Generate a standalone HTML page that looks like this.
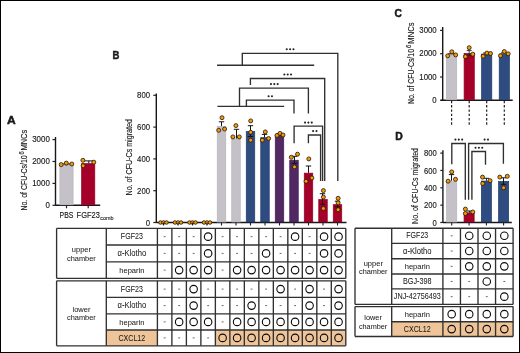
<!DOCTYPE html>
<html><head><meta charset="utf-8"><style>
html,body{margin:0;padding:0;background:#fff;overflow:hidden;width:520px;height:353px;}
svg{display:block;font-family:"Liberation Sans", sans-serif;will-change:transform;}
</style></head><body>
<svg width="520" height="353" viewBox="0 0 520 353">
<rect x="0" y="0" width="520" height="353" fill="#fff"/>
<rect x="0.50" y="0.50" width="519.00" height="352.00" fill="none" stroke="#000" stroke-width="1"/>
<text x="6.90" y="123.80" font-size="11.3" text-anchor="start" font-weight="bold" fill="#1a1a1a" textLength="8.7" lengthAdjust="spacingAndGlyphs" stroke="#1a1a1a" stroke-width="0.5" >A</text>
<line x1="55.50" y1="137.00" x2="55.50" y2="205.80" stroke="#181818" stroke-width="1.4" />
<line x1="52.50" y1="205.30" x2="55.50" y2="205.30" stroke="#202020" stroke-width="1.2" />
<text x="49.80" y="207.90" font-size="8.8" text-anchor="end" font-weight="normal" fill="#1a1a1a" textLength="4.4" lengthAdjust="spacingAndGlyphs" stroke="#1a1a1a" stroke-width="0.15" >0</text>
<line x1="52.50" y1="183.40" x2="55.50" y2="183.40" stroke="#202020" stroke-width="1.2" />
<text x="49.80" y="186.00" font-size="8.8" text-anchor="end" font-weight="normal" fill="#1a1a1a" textLength="17.6" lengthAdjust="spacingAndGlyphs" stroke="#1a1a1a" stroke-width="0.15" >1000</text>
<line x1="52.50" y1="161.50" x2="55.50" y2="161.50" stroke="#202020" stroke-width="1.2" />
<text x="49.80" y="164.10" font-size="8.8" text-anchor="end" font-weight="normal" fill="#1a1a1a" textLength="17.6" lengthAdjust="spacingAndGlyphs" stroke="#1a1a1a" stroke-width="0.15" >2000</text>
<line x1="52.50" y1="139.60" x2="55.50" y2="139.60" stroke="#202020" stroke-width="1.2" />
<text x="49.80" y="142.20" font-size="8.8" text-anchor="end" font-weight="normal" fill="#1a1a1a" textLength="17.6" lengthAdjust="spacingAndGlyphs" stroke="#1a1a1a" stroke-width="0.15" >3000</text>
<line x1="55.50" y1="205.30" x2="100.20" y2="205.30" stroke="#181818" stroke-width="1.4" />
<rect x="59.90" y="165.35" width="13.20" height="39.45" fill="#c4c1c8" stroke="#b6b3ba" stroke-width="0.7"/>
<line x1="66.50" y1="205.30" x2="66.50" y2="208.30" stroke="#202020" stroke-width="1.2" />
<rect x="81.60" y="163.65" width="13.20" height="41.15" fill="#a5002a" stroke="#95001f" stroke-width="0.7"/>
<line x1="88.20" y1="205.30" x2="88.20" y2="208.30" stroke="#202020" stroke-width="1.2" />
<line x1="61.20" y1="164.00" x2="71.80" y2="164.00" stroke="#111" stroke-width="1.0" />
<line x1="66.50" y1="163.00" x2="66.50" y2="165.20" stroke="#111" stroke-width="1.6" />
<circle cx="61.20" cy="164.60" r="2.0" fill="#f39a06" stroke="#21170a" stroke-width="0.8"/>
<circle cx="66.30" cy="163.10" r="2.0" fill="#f39a06" stroke="#21170a" stroke-width="0.8"/>
<circle cx="71.80" cy="164.00" r="2.0" fill="#f39a06" stroke="#21170a" stroke-width="0.8"/>
<line x1="83.00" y1="160.90" x2="93.50" y2="160.90" stroke="#111" stroke-width="1.0" />
<line x1="88.80" y1="160.90" x2="88.80" y2="163.30" stroke="#111" stroke-width="1.0" />
<circle cx="82.90" cy="160.30" r="2.0" fill="#f39a06" stroke="#21170a" stroke-width="0.8"/>
<circle cx="83.10" cy="165.80" r="2.0" fill="#f39a06" stroke="#21170a" stroke-width="0.8"/>
<circle cx="93.80" cy="162.20" r="2.0" fill="#f39a06" stroke="#21170a" stroke-width="0.8"/>
<text x="66.50" y="217.70" font-size="9.0" text-anchor="middle" font-weight="normal" fill="#1a1a1a" textLength="13.8" lengthAdjust="spacingAndGlyphs" stroke="#1a1a1a" stroke-width="0.15" >PBS</text>
<text x="76.60" y="217.70" font-size="9.0" text-anchor="start" font-weight="normal" fill="#1a1a1a" textLength="23.2" lengthAdjust="spacingAndGlyphs" stroke="#1a1a1a" stroke-width="0.15" >FGF23</text>
<text x="100.20" y="220.30" font-size="5.8" text-anchor="start" font-weight="normal" fill="#1a1a1a" textLength="13.4" lengthAdjust="spacingAndGlyphs" stroke="#1a1a1a" stroke-width="0.1" >comb</text>
<text transform="translate(27.20,0) rotate(-90)" x="-210.50" y="0" font-size="9.8" fill="#1a1a1a" stroke="#1a1a1a" stroke-width="0.15" textLength="55.10" lengthAdjust="spacingAndGlyphs">No. of CFU-Cs/10</text>
<text transform="translate(24.10,0) rotate(-90)" x="-154.50" y="0" font-size="6.664000000000001" fill="#1a1a1a" stroke="#1a1a1a" stroke-width="0.15" textLength="3.20" lengthAdjust="spacingAndGlyphs">6</text>
<text transform="translate(27.20,0) rotate(-90)" x="-150.60" y="0" font-size="9.8" fill="#1a1a1a" stroke="#1a1a1a" stroke-width="0.15" textLength="20.80" lengthAdjust="spacingAndGlyphs">MNCs</text>
<text x="112.40" y="59.00" font-size="11" text-anchor="start" font-weight="bold" fill="#1a1a1a" textLength="6.9" lengthAdjust="spacingAndGlyphs" stroke="#1a1a1a" stroke-width="0.5" >B</text>
<line x1="156.30" y1="93.50" x2="156.30" y2="223.00" stroke="#181818" stroke-width="1.4" />
<line x1="153.30" y1="222.50" x2="156.30" y2="222.50" stroke="#202020" stroke-width="1.2" />
<text x="150.00" y="225.60" font-size="8.8" text-anchor="end" font-weight="normal" fill="#1a1a1a" textLength="4.3" lengthAdjust="spacingAndGlyphs" stroke="#1a1a1a" stroke-width="0.15" >0</text>
<line x1="153.30" y1="190.70" x2="156.30" y2="190.70" stroke="#202020" stroke-width="1.2" />
<text x="150.00" y="193.80" font-size="8.8" text-anchor="end" font-weight="normal" fill="#1a1a1a" textLength="12.899999999999999" lengthAdjust="spacingAndGlyphs" stroke="#1a1a1a" stroke-width="0.15" >200</text>
<line x1="153.30" y1="158.90" x2="156.30" y2="158.90" stroke="#202020" stroke-width="1.2" />
<text x="150.00" y="162.00" font-size="8.8" text-anchor="end" font-weight="normal" fill="#1a1a1a" textLength="12.899999999999999" lengthAdjust="spacingAndGlyphs" stroke="#1a1a1a" stroke-width="0.15" >400</text>
<line x1="153.30" y1="127.10" x2="156.30" y2="127.10" stroke="#202020" stroke-width="1.2" />
<text x="150.00" y="130.20" font-size="8.8" text-anchor="end" font-weight="normal" fill="#1a1a1a" textLength="12.899999999999999" lengthAdjust="spacingAndGlyphs" stroke="#1a1a1a" stroke-width="0.15" >600</text>
<line x1="153.30" y1="95.30" x2="156.30" y2="95.30" stroke="#202020" stroke-width="1.2" />
<text x="150.00" y="98.40" font-size="8.8" text-anchor="end" font-weight="normal" fill="#1a1a1a" textLength="12.899999999999999" lengthAdjust="spacingAndGlyphs" stroke="#1a1a1a" stroke-width="0.15" >800</text>
<line x1="156.30" y1="222.50" x2="346.50" y2="222.50" stroke="#181818" stroke-width="1.4" />
<text transform="translate(131.70,0) rotate(-90)" x="-195.50" y="0" font-size="9.8" fill="#1a1a1a" stroke="#1a1a1a" stroke-width="0.15" textLength="76.40" lengthAdjust="spacingAndGlyphs">No. of CFU-Cs migrated</text>
<circle cx="160.50" cy="222.50" r="1.8" fill="#f39a06" stroke="#21170a" stroke-width="0.8"/>
<circle cx="163.50" cy="222.50" r="1.8" fill="#f39a06" stroke="#21170a" stroke-width="0.8"/>
<circle cx="166.50" cy="222.50" r="1.8" fill="#f39a06" stroke="#21170a" stroke-width="0.8"/>
<circle cx="175.00" cy="222.50" r="1.8" fill="#f39a06" stroke="#21170a" stroke-width="0.8"/>
<circle cx="178.00" cy="222.50" r="1.8" fill="#f39a06" stroke="#21170a" stroke-width="0.8"/>
<circle cx="181.00" cy="222.50" r="1.8" fill="#f39a06" stroke="#21170a" stroke-width="0.8"/>
<circle cx="189.50" cy="222.50" r="1.8" fill="#f39a06" stroke="#21170a" stroke-width="0.8"/>
<circle cx="192.50" cy="222.50" r="1.8" fill="#f39a06" stroke="#21170a" stroke-width="0.8"/>
<circle cx="195.50" cy="222.50" r="1.8" fill="#f39a06" stroke="#21170a" stroke-width="0.8"/>
<circle cx="204.00" cy="222.50" r="1.8" fill="#f39a06" stroke="#21170a" stroke-width="0.8"/>
<circle cx="207.00" cy="222.50" r="1.8" fill="#f39a06" stroke="#21170a" stroke-width="0.8"/>
<circle cx="210.00" cy="222.50" r="1.8" fill="#f39a06" stroke="#21170a" stroke-width="0.8"/>
<rect x="217.25" y="126.35" width="8.50" height="95.65" fill="#c4c1c8" stroke="#b6b3ba" stroke-width="0.7"/>
<rect x="231.75" y="138.85" width="8.50" height="83.15" fill="#c4c1c8" stroke="#b6b3ba" stroke-width="0.7"/>
<rect x="246.25" y="131.55" width="8.50" height="90.45" fill="#2f4c80" stroke="#203a6c" stroke-width="0.7"/>
<rect x="260.75" y="137.65" width="8.50" height="84.35" fill="#2f4c80" stroke="#203a6c" stroke-width="0.7"/>
<rect x="275.25" y="134.95" width="8.50" height="87.05" fill="#522862" stroke="#44185a" stroke-width="0.7"/>
<rect x="289.75" y="160.25" width="8.50" height="61.75" fill="#522862" stroke="#44185a" stroke-width="0.7"/>
<rect x="304.25" y="173.15" width="8.50" height="48.85" fill="#a5002a" stroke="#95001f" stroke-width="0.7"/>
<rect x="318.75" y="199.55" width="8.50" height="22.45" fill="#a5002a" stroke="#95001f" stroke-width="0.7"/>
<rect x="333.25" y="204.65" width="8.50" height="17.35" fill="#a5002a" stroke="#95001f" stroke-width="0.7"/>
<line x1="163.50" y1="222.50" x2="163.50" y2="225.50" stroke="#202020" stroke-width="1.1" />
<line x1="178.00" y1="222.50" x2="178.00" y2="225.50" stroke="#202020" stroke-width="1.1" />
<line x1="192.50" y1="222.50" x2="192.50" y2="225.50" stroke="#202020" stroke-width="1.1" />
<line x1="207.00" y1="222.50" x2="207.00" y2="225.50" stroke="#202020" stroke-width="1.1" />
<line x1="221.50" y1="222.50" x2="221.50" y2="225.50" stroke="#202020" stroke-width="1.1" />
<line x1="236.00" y1="222.50" x2="236.00" y2="225.50" stroke="#202020" stroke-width="1.1" />
<line x1="250.50" y1="222.50" x2="250.50" y2="225.50" stroke="#202020" stroke-width="1.1" />
<line x1="265.00" y1="222.50" x2="265.00" y2="225.50" stroke="#202020" stroke-width="1.1" />
<line x1="279.50" y1="222.50" x2="279.50" y2="225.50" stroke="#202020" stroke-width="1.1" />
<line x1="294.00" y1="222.50" x2="294.00" y2="225.50" stroke="#202020" stroke-width="1.1" />
<line x1="308.50" y1="222.50" x2="308.50" y2="225.50" stroke="#202020" stroke-width="1.1" />
<line x1="323.00" y1="222.50" x2="323.00" y2="225.50" stroke="#202020" stroke-width="1.1" />
<line x1="337.50" y1="222.50" x2="337.50" y2="225.50" stroke="#202020" stroke-width="1.1" />
<line x1="221.50" y1="121.80" x2="221.50" y2="126.00" stroke="#151515" stroke-width="1.0" />
<line x1="218.80" y1="121.80" x2="224.20" y2="121.80" stroke="#151515" stroke-width="1.0" />
<circle cx="222.00" cy="117.70" r="2.0" fill="#f39a06" stroke="#21170a" stroke-width="0.8"/>
<circle cx="218.70" cy="130.30" r="2.0" fill="#f39a06" stroke="#21170a" stroke-width="0.8"/>
<circle cx="224.60" cy="129.00" r="2.0" fill="#f39a06" stroke="#21170a" stroke-width="0.8"/>
<line x1="236.50" y1="129.30" x2="236.50" y2="138.50" stroke="#151515" stroke-width="1.0" />
<line x1="233.80" y1="129.30" x2="239.20" y2="129.30" stroke="#151515" stroke-width="1.0" />
<circle cx="235.90" cy="125.60" r="2.0" fill="#f39a06" stroke="#21170a" stroke-width="0.8"/>
<circle cx="232.90" cy="136.90" r="2.0" fill="#f39a06" stroke="#21170a" stroke-width="0.8"/>
<circle cx="239.30" cy="136.90" r="2.0" fill="#f39a06" stroke="#21170a" stroke-width="0.8"/>
<line x1="250.50" y1="125.70" x2="250.50" y2="136.50" stroke="#151515" stroke-width="1.0" />
<line x1="247.80" y1="125.70" x2="253.20" y2="125.70" stroke="#151515" stroke-width="1.0" />
<line x1="247.80" y1="136.50" x2="253.20" y2="136.50" stroke="#151515" stroke-width="1.0" />
<circle cx="250.70" cy="120.90" r="2.0" fill="#f39a06" stroke="#21170a" stroke-width="0.8"/>
<circle cx="250.70" cy="132.30" r="2.0" fill="#f39a06" stroke="#21170a" stroke-width="0.8"/>
<circle cx="250.70" cy="140.20" r="2.0" fill="#f39a06" stroke="#21170a" stroke-width="0.8"/>
<line x1="264.50" y1="134.40" x2="264.50" y2="137.30" stroke="#151515" stroke-width="1.0" />
<line x1="261.80" y1="134.40" x2="267.20" y2="134.40" stroke="#151515" stroke-width="1.0" />
<circle cx="265.30" cy="131.90" r="2.0" fill="#f39a06" stroke="#21170a" stroke-width="0.8"/>
<circle cx="262.30" cy="140.20" r="2.0" fill="#f39a06" stroke="#21170a" stroke-width="0.8"/>
<circle cx="268.60" cy="138.50" r="2.0" fill="#f39a06" stroke="#21170a" stroke-width="0.8"/>
<line x1="279.50" y1="133.60" x2="279.50" y2="134.60" stroke="#151515" stroke-width="1.0" />
<line x1="276.80" y1="133.60" x2="282.20" y2="133.60" stroke="#151515" stroke-width="1.0" />
<circle cx="277.00" cy="135.40" r="2.0" fill="#f39a06" stroke="#21170a" stroke-width="0.8"/>
<circle cx="280.00" cy="133.40" r="2.0" fill="#f39a06" stroke="#21170a" stroke-width="0.8"/>
<circle cx="283.00" cy="135.00" r="2.0" fill="#f39a06" stroke="#21170a" stroke-width="0.8"/>
<line x1="294.50" y1="156.30" x2="294.50" y2="163.50" stroke="#151515" stroke-width="1.0" />
<line x1="291.80" y1="156.30" x2="297.20" y2="156.30" stroke="#151515" stroke-width="1.0" />
<line x1="291.80" y1="163.50" x2="297.20" y2="163.50" stroke="#151515" stroke-width="1.0" />
<circle cx="291.30" cy="157.30" r="2.0" fill="#f39a06" stroke="#21170a" stroke-width="0.8"/>
<circle cx="297.50" cy="154.20" r="2.0" fill="#f39a06" stroke="#21170a" stroke-width="0.8"/>
<circle cx="294.50" cy="166.90" r="2.0" fill="#f39a06" stroke="#21170a" stroke-width="0.8"/>
<line x1="308.50" y1="166.00" x2="308.50" y2="172.80" stroke="#151515" stroke-width="1.0" />
<line x1="305.80" y1="166.00" x2="311.20" y2="166.00" stroke="#151515" stroke-width="1.0" />
<circle cx="308.80" cy="158.90" r="2.0" fill="#f39a06" stroke="#21170a" stroke-width="0.8"/>
<circle cx="306.00" cy="181.30" r="2.0" fill="#f39a06" stroke="#21170a" stroke-width="0.8"/>
<circle cx="311.90" cy="177.90" r="2.0" fill="#f39a06" stroke="#21170a" stroke-width="0.8"/>
<line x1="322.50" y1="193.70" x2="322.50" y2="204.30" stroke="#151515" stroke-width="1.0" />
<line x1="319.80" y1="193.70" x2="325.20" y2="193.70" stroke="#151515" stroke-width="1.0" />
<line x1="319.80" y1="204.30" x2="325.20" y2="204.30" stroke="#151515" stroke-width="1.0" />
<circle cx="323.40" cy="190.60" r="2.0" fill="#f39a06" stroke="#21170a" stroke-width="0.8"/>
<circle cx="323.40" cy="197.10" r="2.0" fill="#f39a06" stroke="#21170a" stroke-width="0.8"/>
<circle cx="323.40" cy="208.50" r="2.0" fill="#f39a06" stroke="#21170a" stroke-width="0.8"/>
<line x1="337.50" y1="201.20" x2="337.50" y2="206.80" stroke="#151515" stroke-width="1.0" />
<line x1="334.80" y1="201.20" x2="340.20" y2="201.20" stroke="#151515" stroke-width="1.0" />
<line x1="334.80" y1="206.80" x2="340.20" y2="206.80" stroke="#151515" stroke-width="1.0" />
<circle cx="338.10" cy="198.30" r="2.0" fill="#f39a06" stroke="#21170a" stroke-width="0.8"/>
<circle cx="338.10" cy="202.90" r="2.0" fill="#f39a06" stroke="#21170a" stroke-width="0.8"/>
<circle cx="338.10" cy="209.70" r="2.0" fill="#f39a06" stroke="#21170a" stroke-width="0.8"/>
<path d="M217,65.2 H314.2" fill="none" stroke="#303030" stroke-width="1.35"/>
<path d="M242.3,65.2 V53.4 H337.8 V181" fill="none" stroke="#303030" stroke-width="1.35"/>
<circle cx="286.75" cy="49.30" r="1.05" fill="#222"/>
<circle cx="290.10" cy="49.30" r="1.05" fill="#222"/>
<circle cx="293.45" cy="49.30" r="1.05" fill="#222"/>
<path d="M250.4,85 V78.5 H324.7 V181" fill="none" stroke="#303030" stroke-width="1.35"/>
<circle cx="284.35" cy="74.50" r="1.05" fill="#222"/>
<circle cx="287.70" cy="74.50" r="1.05" fill="#222"/>
<circle cx="291.05" cy="74.50" r="1.05" fill="#222"/>
<path d="M239.5,106.3 V88.1 H308.4 V113.4" fill="none" stroke="#303030" stroke-width="1.35"/>
<circle cx="270.95" cy="84.10" r="1.05" fill="#222"/>
<circle cx="274.30" cy="84.10" r="1.05" fill="#222"/>
<circle cx="277.65" cy="84.10" r="1.05" fill="#222"/>
<path d="M246.4,106.3 V100.1 H294 V113.4" fill="none" stroke="#303030" stroke-width="1.35"/>
<circle cx="268.62" cy="96.20" r="1.05" fill="#222"/>
<circle cx="271.98" cy="96.20" r="1.05" fill="#222"/>
<path d="M217.4,106.4 H284.2" fill="none" stroke="#303030" stroke-width="1.35"/>
<path d="M294.1,143.3 V126.1 H322.6 V181" fill="none" stroke="#303030" stroke-width="1.35"/>
<circle cx="305.05" cy="122.60" r="1.05" fill="#222"/>
<circle cx="308.40" cy="122.60" r="1.05" fill="#222"/>
<circle cx="311.75" cy="122.60" r="1.05" fill="#222"/>
<path d="M308.4,143.3 V135 H320.6 V181" fill="none" stroke="#303030" stroke-width="1.35"/>
<circle cx="313.12" cy="131.10" r="1.05" fill="#222"/>
<circle cx="316.48" cy="131.10" r="1.05" fill="#222"/>
<rect x="106.30" y="330.00" width="51.10" height="15.80" fill="#eec498" stroke="none" stroke-width="0"/>
<rect x="215.37" y="330.00" width="130.43" height="15.80" fill="#eec498" stroke="none" stroke-width="0"/>
<line x1="56.60" y1="228.30" x2="345.80" y2="228.30" stroke="#303030" stroke-width="1.35" />
<line x1="106.30" y1="245.00" x2="345.80" y2="245.00" stroke="#303030" stroke-width="1.35" />
<line x1="106.30" y1="261.80" x2="345.80" y2="261.80" stroke="#303030" stroke-width="1.35" />
<line x1="56.60" y1="278.40" x2="345.80" y2="278.40" stroke="#303030" stroke-width="1.35" />
<line x1="56.60" y1="228.30" x2="56.60" y2="278.40" stroke="#303030" stroke-width="1.35" />
<line x1="106.30" y1="228.30" x2="106.30" y2="278.40" stroke="#303030" stroke-width="1.35" />
<line x1="157.40" y1="228.30" x2="157.40" y2="278.40" stroke="#303030" stroke-width="1.35" />
<line x1="171.89" y1="228.30" x2="171.89" y2="278.40" stroke="#303030" stroke-width="1.35" />
<line x1="186.38" y1="228.30" x2="186.38" y2="278.40" stroke="#303030" stroke-width="1.35" />
<line x1="200.88" y1="228.30" x2="200.88" y2="278.40" stroke="#303030" stroke-width="1.35" />
<line x1="215.37" y1="228.30" x2="215.37" y2="278.40" stroke="#303030" stroke-width="1.35" />
<line x1="229.86" y1="228.30" x2="229.86" y2="278.40" stroke="#303030" stroke-width="1.35" />
<line x1="244.35" y1="228.30" x2="244.35" y2="278.40" stroke="#303030" stroke-width="1.35" />
<line x1="258.85" y1="228.30" x2="258.85" y2="278.40" stroke="#303030" stroke-width="1.35" />
<line x1="273.34" y1="228.30" x2="273.34" y2="278.40" stroke="#303030" stroke-width="1.35" />
<line x1="287.83" y1="228.30" x2="287.83" y2="278.40" stroke="#303030" stroke-width="1.35" />
<line x1="302.32" y1="228.30" x2="302.32" y2="278.40" stroke="#303030" stroke-width="1.35" />
<line x1="316.82" y1="228.30" x2="316.82" y2="278.40" stroke="#303030" stroke-width="1.35" />
<line x1="331.31" y1="228.30" x2="331.31" y2="278.40" stroke="#303030" stroke-width="1.35" />
<line x1="345.80" y1="228.30" x2="345.80" y2="278.40" stroke="#303030" stroke-width="1.35" />
<line x1="56.60" y1="280.80" x2="345.80" y2="280.80" stroke="#303030" stroke-width="1.35" />
<line x1="106.30" y1="297.40" x2="345.80" y2="297.40" stroke="#303030" stroke-width="1.35" />
<line x1="106.30" y1="313.80" x2="345.80" y2="313.80" stroke="#303030" stroke-width="1.35" />
<line x1="106.30" y1="330.00" x2="345.80" y2="330.00" stroke="#303030" stroke-width="1.35" />
<line x1="56.60" y1="345.80" x2="345.80" y2="345.80" stroke="#303030" stroke-width="1.35" />
<line x1="56.60" y1="280.80" x2="56.60" y2="345.80" stroke="#303030" stroke-width="1.35" />
<line x1="106.30" y1="280.80" x2="106.30" y2="345.80" stroke="#303030" stroke-width="1.35" />
<line x1="157.40" y1="280.80" x2="157.40" y2="345.80" stroke="#303030" stroke-width="1.35" />
<line x1="171.89" y1="280.80" x2="171.89" y2="345.80" stroke="#303030" stroke-width="1.35" />
<line x1="186.38" y1="280.80" x2="186.38" y2="345.80" stroke="#303030" stroke-width="1.35" />
<line x1="200.88" y1="280.80" x2="200.88" y2="345.80" stroke="#303030" stroke-width="1.35" />
<line x1="215.37" y1="280.80" x2="215.37" y2="345.80" stroke="#303030" stroke-width="1.35" />
<line x1="229.86" y1="280.80" x2="229.86" y2="345.80" stroke="#303030" stroke-width="1.35" />
<line x1="244.35" y1="280.80" x2="244.35" y2="345.80" stroke="#303030" stroke-width="1.35" />
<line x1="258.85" y1="280.80" x2="258.85" y2="345.80" stroke="#303030" stroke-width="1.35" />
<line x1="273.34" y1="280.80" x2="273.34" y2="345.80" stroke="#303030" stroke-width="1.35" />
<line x1="287.83" y1="280.80" x2="287.83" y2="345.80" stroke="#303030" stroke-width="1.35" />
<line x1="302.32" y1="280.80" x2="302.32" y2="345.80" stroke="#303030" stroke-width="1.35" />
<line x1="316.82" y1="280.80" x2="316.82" y2="345.80" stroke="#303030" stroke-width="1.35" />
<line x1="331.31" y1="280.80" x2="331.31" y2="345.80" stroke="#303030" stroke-width="1.35" />
<line x1="345.80" y1="280.80" x2="345.80" y2="345.80" stroke="#303030" stroke-width="1.35" />
<text x="131.85" y="239.25" font-size="8.2" text-anchor="middle" font-weight="normal" fill="#1a1a1a" textLength="22.0" lengthAdjust="spacingAndGlyphs" stroke="#1a1a1a" stroke-width="0.04" >FGF23</text>
<rect x="163.70" y="236.15" width="1.9" height="1.0" fill="#6a6a6a"/>
<rect x="178.19" y="236.15" width="1.9" height="1.0" fill="#6a6a6a"/>
<rect x="192.68" y="236.15" width="1.9" height="1.0" fill="#6a6a6a"/>
<circle cx="208.12" cy="236.65" r="3.75" fill="none" stroke="#0a0a0a" stroke-width="1.1"/>
<rect x="221.67" y="236.15" width="1.9" height="1.0" fill="#6a6a6a"/>
<rect x="236.16" y="236.15" width="1.9" height="1.0" fill="#6a6a6a"/>
<rect x="250.65" y="236.15" width="1.9" height="1.0" fill="#6a6a6a"/>
<rect x="265.14" y="236.15" width="1.9" height="1.0" fill="#6a6a6a"/>
<rect x="279.63" y="236.15" width="1.9" height="1.0" fill="#6a6a6a"/>
<circle cx="295.08" cy="236.65" r="3.75" fill="none" stroke="#0a0a0a" stroke-width="1.1"/>
<rect x="308.62" y="236.15" width="1.9" height="1.0" fill="#6a6a6a"/>
<circle cx="324.06" cy="236.65" r="3.75" fill="none" stroke="#0a0a0a" stroke-width="1.1"/>
<circle cx="338.55" cy="236.65" r="3.75" fill="none" stroke="#0a0a0a" stroke-width="1.1"/>
<text x="131.85" y="256.00" font-size="8.2" text-anchor="middle" font-weight="normal" fill="#1a1a1a" textLength="28.6" lengthAdjust="spacingAndGlyphs" stroke="#1a1a1a" stroke-width="0.04" >α-Klotho</text>
<rect x="163.70" y="252.90" width="1.9" height="1.0" fill="#6a6a6a"/>
<rect x="178.19" y="252.90" width="1.9" height="1.0" fill="#6a6a6a"/>
<rect x="192.68" y="252.90" width="1.9" height="1.0" fill="#6a6a6a"/>
<circle cx="208.12" cy="253.40" r="3.75" fill="none" stroke="#0a0a0a" stroke-width="1.1"/>
<rect x="221.67" y="252.90" width="1.9" height="1.0" fill="#6a6a6a"/>
<rect x="236.16" y="252.90" width="1.9" height="1.0" fill="#6a6a6a"/>
<rect x="250.65" y="252.90" width="1.9" height="1.0" fill="#6a6a6a"/>
<circle cx="266.09" cy="253.40" r="3.75" fill="none" stroke="#0a0a0a" stroke-width="1.1"/>
<rect x="279.63" y="252.90" width="1.9" height="1.0" fill="#6a6a6a"/>
<rect x="294.13" y="252.90" width="1.9" height="1.0" fill="#6a6a6a"/>
<rect x="308.62" y="252.90" width="1.9" height="1.0" fill="#6a6a6a"/>
<circle cx="324.06" cy="253.40" r="3.75" fill="none" stroke="#0a0a0a" stroke-width="1.1"/>
<circle cx="338.55" cy="253.40" r="3.75" fill="none" stroke="#0a0a0a" stroke-width="1.1"/>
<text x="131.85" y="272.70" font-size="7.8" text-anchor="middle" font-weight="normal" fill="#1a1a1a" textLength="25.1" lengthAdjust="spacingAndGlyphs" stroke="#1a1a1a" stroke-width="0.04" >heparin</text>
<rect x="163.70" y="269.60" width="1.9" height="1.0" fill="#6a6a6a"/>
<circle cx="179.14" cy="270.10" r="3.75" fill="none" stroke="#0a0a0a" stroke-width="1.1"/>
<circle cx="193.63" cy="270.10" r="3.75" fill="none" stroke="#0a0a0a" stroke-width="1.1"/>
<circle cx="208.12" cy="270.10" r="3.75" fill="none" stroke="#0a0a0a" stroke-width="1.1"/>
<rect x="221.67" y="269.60" width="1.9" height="1.0" fill="#6a6a6a"/>
<circle cx="237.11" cy="270.10" r="3.75" fill="none" stroke="#0a0a0a" stroke-width="1.1"/>
<circle cx="251.60" cy="270.10" r="3.75" fill="none" stroke="#0a0a0a" stroke-width="1.1"/>
<circle cx="266.09" cy="270.10" r="3.75" fill="none" stroke="#0a0a0a" stroke-width="1.1"/>
<circle cx="280.58" cy="270.10" r="3.75" fill="none" stroke="#0a0a0a" stroke-width="1.1"/>
<circle cx="295.08" cy="270.10" r="3.75" fill="none" stroke="#0a0a0a" stroke-width="1.1"/>
<circle cx="309.57" cy="270.10" r="3.75" fill="none" stroke="#0a0a0a" stroke-width="1.1"/>
<circle cx="324.06" cy="270.10" r="3.75" fill="none" stroke="#0a0a0a" stroke-width="1.1"/>
<circle cx="338.55" cy="270.10" r="3.75" fill="none" stroke="#0a0a0a" stroke-width="1.1"/>
<text x="131.85" y="291.70" font-size="8.2" text-anchor="middle" font-weight="normal" fill="#1a1a1a" textLength="22.0" lengthAdjust="spacingAndGlyphs" stroke="#1a1a1a" stroke-width="0.04" >FGF23</text>
<rect x="163.70" y="288.60" width="1.9" height="1.0" fill="#6a6a6a"/>
<rect x="178.19" y="288.60" width="1.9" height="1.0" fill="#6a6a6a"/>
<circle cx="193.63" cy="289.10" r="3.75" fill="none" stroke="#0a0a0a" stroke-width="1.1"/>
<rect x="207.17" y="288.60" width="1.9" height="1.0" fill="#6a6a6a"/>
<rect x="221.67" y="288.60" width="1.9" height="1.0" fill="#6a6a6a"/>
<rect x="236.16" y="288.60" width="1.9" height="1.0" fill="#6a6a6a"/>
<rect x="250.65" y="288.60" width="1.9" height="1.0" fill="#6a6a6a"/>
<rect x="265.14" y="288.60" width="1.9" height="1.0" fill="#6a6a6a"/>
<circle cx="280.58" cy="289.10" r="3.75" fill="none" stroke="#0a0a0a" stroke-width="1.1"/>
<rect x="294.13" y="288.60" width="1.9" height="1.0" fill="#6a6a6a"/>
<circle cx="309.57" cy="289.10" r="3.75" fill="none" stroke="#0a0a0a" stroke-width="1.1"/>
<rect x="323.11" y="288.60" width="1.9" height="1.0" fill="#6a6a6a"/>
<circle cx="338.55" cy="289.10" r="3.75" fill="none" stroke="#0a0a0a" stroke-width="1.1"/>
<text x="131.85" y="308.20" font-size="8.2" text-anchor="middle" font-weight="normal" fill="#1a1a1a" textLength="28.6" lengthAdjust="spacingAndGlyphs" stroke="#1a1a1a" stroke-width="0.04" >α-Klotho</text>
<rect x="163.70" y="305.10" width="1.9" height="1.0" fill="#6a6a6a"/>
<rect x="178.19" y="305.10" width="1.9" height="1.0" fill="#6a6a6a"/>
<circle cx="193.63" cy="305.60" r="3.75" fill="none" stroke="#0a0a0a" stroke-width="1.1"/>
<rect x="207.17" y="305.10" width="1.9" height="1.0" fill="#6a6a6a"/>
<rect x="221.67" y="305.10" width="1.9" height="1.0" fill="#6a6a6a"/>
<rect x="236.16" y="305.10" width="1.9" height="1.0" fill="#6a6a6a"/>
<circle cx="251.60" cy="305.60" r="3.75" fill="none" stroke="#0a0a0a" stroke-width="1.1"/>
<rect x="265.14" y="305.10" width="1.9" height="1.0" fill="#6a6a6a"/>
<rect x="279.63" y="305.10" width="1.9" height="1.0" fill="#6a6a6a"/>
<rect x="294.13" y="305.10" width="1.9" height="1.0" fill="#6a6a6a"/>
<circle cx="309.57" cy="305.60" r="3.75" fill="none" stroke="#0a0a0a" stroke-width="1.1"/>
<rect x="323.11" y="305.10" width="1.9" height="1.0" fill="#6a6a6a"/>
<circle cx="338.55" cy="305.60" r="3.75" fill="none" stroke="#0a0a0a" stroke-width="1.1"/>
<text x="131.85" y="324.50" font-size="7.8" text-anchor="middle" font-weight="normal" fill="#1a1a1a" textLength="25.1" lengthAdjust="spacingAndGlyphs" stroke="#1a1a1a" stroke-width="0.04" >heparin</text>
<rect x="163.70" y="321.40" width="1.9" height="1.0" fill="#6a6a6a"/>
<circle cx="179.14" cy="321.90" r="3.75" fill="none" stroke="#0a0a0a" stroke-width="1.1"/>
<circle cx="193.63" cy="321.90" r="3.75" fill="none" stroke="#0a0a0a" stroke-width="1.1"/>
<circle cx="208.12" cy="321.90" r="3.75" fill="none" stroke="#0a0a0a" stroke-width="1.1"/>
<rect x="221.67" y="321.40" width="1.9" height="1.0" fill="#6a6a6a"/>
<circle cx="237.11" cy="321.90" r="3.75" fill="none" stroke="#0a0a0a" stroke-width="1.1"/>
<circle cx="251.60" cy="321.90" r="3.75" fill="none" stroke="#0a0a0a" stroke-width="1.1"/>
<circle cx="266.09" cy="321.90" r="3.75" fill="none" stroke="#0a0a0a" stroke-width="1.1"/>
<circle cx="280.58" cy="321.90" r="3.75" fill="none" stroke="#0a0a0a" stroke-width="1.1"/>
<circle cx="295.08" cy="321.90" r="3.75" fill="none" stroke="#0a0a0a" stroke-width="1.1"/>
<circle cx="309.57" cy="321.90" r="3.75" fill="none" stroke="#0a0a0a" stroke-width="1.1"/>
<circle cx="324.06" cy="321.90" r="3.75" fill="none" stroke="#0a0a0a" stroke-width="1.1"/>
<circle cx="338.55" cy="321.90" r="3.75" fill="none" stroke="#0a0a0a" stroke-width="1.1"/>
<text x="131.85" y="340.50" font-size="8.2" text-anchor="middle" font-weight="normal" fill="#1a1a1a" textLength="26.9" lengthAdjust="spacingAndGlyphs" stroke="#1a1a1a" stroke-width="0.04" >CXCL12</text>
<rect x="163.70" y="337.40" width="1.9" height="1.0" fill="#6a6a6a"/>
<rect x="178.19" y="337.40" width="1.9" height="1.0" fill="#6a6a6a"/>
<rect x="192.68" y="337.40" width="1.9" height="1.0" fill="#6a6a6a"/>
<rect x="207.17" y="337.40" width="1.9" height="1.0" fill="#6a6a6a"/>
<circle cx="222.62" cy="337.90" r="3.75" fill="none" stroke="#0a0a0a" stroke-width="1.1"/>
<circle cx="237.11" cy="337.90" r="3.75" fill="none" stroke="#0a0a0a" stroke-width="1.1"/>
<circle cx="251.60" cy="337.90" r="3.75" fill="none" stroke="#0a0a0a" stroke-width="1.1"/>
<circle cx="266.09" cy="337.90" r="3.75" fill="none" stroke="#0a0a0a" stroke-width="1.1"/>
<circle cx="280.58" cy="337.90" r="3.75" fill="none" stroke="#0a0a0a" stroke-width="1.1"/>
<circle cx="295.08" cy="337.90" r="3.75" fill="none" stroke="#0a0a0a" stroke-width="1.1"/>
<circle cx="309.57" cy="337.90" r="3.75" fill="none" stroke="#0a0a0a" stroke-width="1.1"/>
<circle cx="324.06" cy="337.90" r="3.75" fill="none" stroke="#0a0a0a" stroke-width="1.1"/>
<circle cx="338.55" cy="337.90" r="3.75" fill="none" stroke="#0a0a0a" stroke-width="1.1"/>
<text x="81.40" y="251.70" font-size="7.9" text-anchor="middle" font-weight="normal" fill="#1a1a1a" textLength="19.2" lengthAdjust="spacingAndGlyphs" stroke="#1a1a1a" stroke-width="0.04" >upper</text>
<text x="81.40" y="260.50" font-size="7.9" text-anchor="middle" font-weight="normal" fill="#1a1a1a" textLength="28.8" lengthAdjust="spacingAndGlyphs" stroke="#1a1a1a" stroke-width="0.04" >chamber</text>
<text x="81.50" y="311.60" font-size="7.9" text-anchor="middle" font-weight="normal" fill="#1a1a1a" textLength="18.0" lengthAdjust="spacingAndGlyphs" stroke="#1a1a1a" stroke-width="0.04" >lower</text>
<text x="81.40" y="320.40" font-size="7.9" text-anchor="middle" font-weight="normal" fill="#1a1a1a" textLength="28.8" lengthAdjust="spacingAndGlyphs" stroke="#1a1a1a" stroke-width="0.04" >chamber</text>
<text x="394.40" y="16.50" font-size="11.2" text-anchor="start" font-weight="bold" fill="#1a1a1a" textLength="7.4" lengthAdjust="spacingAndGlyphs" stroke="#1a1a1a" stroke-width="0.5" >C</text>
<line x1="442.70" y1="27.00" x2="442.70" y2="100.80" stroke="#181818" stroke-width="1.4" />
<line x1="440.10" y1="100.30" x2="442.70" y2="100.30" stroke="#202020" stroke-width="1.2" />
<text x="436.70" y="103.00" font-size="8.8" text-anchor="end" font-weight="normal" fill="#1a1a1a" textLength="4.35" lengthAdjust="spacingAndGlyphs" stroke="#1a1a1a" stroke-width="0.15" >0</text>
<line x1="440.10" y1="77.00" x2="442.70" y2="77.00" stroke="#202020" stroke-width="1.2" />
<text x="436.70" y="79.70" font-size="8.8" text-anchor="end" font-weight="normal" fill="#1a1a1a" textLength="17.4" lengthAdjust="spacingAndGlyphs" stroke="#1a1a1a" stroke-width="0.15" >1000</text>
<line x1="440.10" y1="53.70" x2="442.70" y2="53.70" stroke="#202020" stroke-width="1.2" />
<text x="436.70" y="56.40" font-size="8.8" text-anchor="end" font-weight="normal" fill="#1a1a1a" textLength="17.4" lengthAdjust="spacingAndGlyphs" stroke="#1a1a1a" stroke-width="0.15" >2000</text>
<line x1="440.10" y1="30.40" x2="442.70" y2="30.40" stroke="#202020" stroke-width="1.2" />
<text x="436.70" y="33.10" font-size="8.8" text-anchor="end" font-weight="normal" fill="#1a1a1a" textLength="17.4" lengthAdjust="spacingAndGlyphs" stroke="#1a1a1a" stroke-width="0.15" >3000</text>
<line x1="440.70" y1="100.30" x2="512.70" y2="100.30" stroke="#181818" stroke-width="1.4" />
<text transform="translate(414.20,0) rotate(-90)" x="-104.10" y="0" font-size="9.8" fill="#1a1a1a" stroke="#1a1a1a" stroke-width="0.15" textLength="55.10" lengthAdjust="spacingAndGlyphs">No. of CFU-Cs/10</text>
<text transform="translate(411.10,0) rotate(-90)" x="-47.90" y="0" font-size="6.664000000000001" fill="#1a1a1a" stroke="#1a1a1a" stroke-width="0.15" textLength="3.30" lengthAdjust="spacingAndGlyphs">6</text>
<text transform="translate(414.20,0) rotate(-90)" x="-43.70" y="0" font-size="9.8" fill="#1a1a1a" stroke="#1a1a1a" stroke-width="0.15" textLength="21.20" lengthAdjust="spacingAndGlyphs">MNCs</text>
<rect x="446.50" y="54.95" width="10.20" height="44.85" fill="#c4c1c8" stroke="#b6b3ba" stroke-width="0.7"/>
<rect x="464.10" y="53.45" width="10.20" height="46.35" fill="#a5002a" stroke="#95001f" stroke-width="0.7"/>
<rect x="481.60" y="54.15" width="10.20" height="45.65" fill="#2f4c80" stroke="#203a6c" stroke-width="0.7"/>
<rect x="499.20" y="54.15" width="10.20" height="45.65" fill="#2f4c80" stroke="#203a6c" stroke-width="0.7"/>
<line x1="448.10" y1="53.80" x2="455.10" y2="53.80" stroke="#202020" stroke-width="1.1" />
<circle cx="447.70" cy="55.80" r="2.0" fill="#f39a06" stroke="#21170a" stroke-width="0.8"/>
<circle cx="451.80" cy="51.80" r="2.0" fill="#f39a06" stroke="#21170a" stroke-width="0.8"/>
<circle cx="455.70" cy="54.90" r="2.0" fill="#f39a06" stroke="#21170a" stroke-width="0.8"/>
<line x1="469.20" y1="50.60" x2="469.20" y2="55.60" stroke="#222" stroke-width="0.9" />
<line x1="466.70" y1="50.60" x2="471.70" y2="50.60" stroke="#222" stroke-width="0.9" />
<line x1="466.70" y1="55.60" x2="471.70" y2="55.60" stroke="#222" stroke-width="0.9" />
<circle cx="469.20" cy="47.70" r="2.0" fill="#f39a06" stroke="#21170a" stroke-width="0.8"/>
<circle cx="465.40" cy="56.60" r="2.0" fill="#f39a06" stroke="#21170a" stroke-width="0.8"/>
<circle cx="472.80" cy="54.20" r="2.0" fill="#f39a06" stroke="#21170a" stroke-width="0.8"/>
<line x1="483.20" y1="53.00" x2="490.20" y2="53.00" stroke="#202020" stroke-width="1.1" />
<circle cx="483.10" cy="56.20" r="2.0" fill="#f39a06" stroke="#21170a" stroke-width="0.8"/>
<circle cx="486.90" cy="53.10" r="2.0" fill="#f39a06" stroke="#21170a" stroke-width="0.8"/>
<circle cx="490.50" cy="53.50" r="2.0" fill="#f39a06" stroke="#21170a" stroke-width="0.8"/>
<line x1="500.80" y1="53.00" x2="507.80" y2="53.00" stroke="#202020" stroke-width="1.1" />
<circle cx="500.50" cy="55.70" r="2.0" fill="#f39a06" stroke="#21170a" stroke-width="0.8"/>
<circle cx="504.30" cy="51.50" r="2.0" fill="#f39a06" stroke="#21170a" stroke-width="0.8"/>
<circle cx="508.20" cy="53.80" r="2.0" fill="#f39a06" stroke="#21170a" stroke-width="0.8"/>
<line x1="451.60" y1="100.80" x2="451.60" y2="125.00" stroke="#202020" stroke-width="1.2" stroke-dasharray="2.4 1.9"/>
<line x1="469.20" y1="100.80" x2="469.20" y2="125.00" stroke="#202020" stroke-width="1.2" stroke-dasharray="2.4 1.9"/>
<line x1="486.70" y1="100.80" x2="486.70" y2="125.00" stroke="#202020" stroke-width="1.2" stroke-dasharray="2.4 1.9"/>
<line x1="504.30" y1="100.80" x2="504.30" y2="125.00" stroke="#202020" stroke-width="1.2" stroke-dasharray="2.4 1.9"/>
<text x="395.20" y="139.80" font-size="11" text-anchor="start" font-weight="bold" fill="#1a1a1a" textLength="7.5" lengthAdjust="spacingAndGlyphs" stroke="#1a1a1a" stroke-width="0.5" >D</text>
<line x1="442.90" y1="150.30" x2="442.90" y2="223.00" stroke="#181818" stroke-width="1.4" />
<line x1="440.30" y1="222.50" x2="442.90" y2="222.50" stroke="#202020" stroke-width="1.2" />
<text x="436.70" y="225.60" font-size="8.8" text-anchor="end" font-weight="normal" fill="#1a1a1a" textLength="4.25" lengthAdjust="spacingAndGlyphs" stroke="#1a1a1a" stroke-width="0.15" >0</text>
<line x1="440.30" y1="205.15" x2="442.90" y2="205.15" stroke="#202020" stroke-width="1.2" />
<text x="436.70" y="208.25" font-size="8.8" text-anchor="end" font-weight="normal" fill="#1a1a1a" textLength="12.75" lengthAdjust="spacingAndGlyphs" stroke="#1a1a1a" stroke-width="0.15" >200</text>
<line x1="440.30" y1="187.80" x2="442.90" y2="187.80" stroke="#202020" stroke-width="1.2" />
<text x="436.70" y="190.90" font-size="8.8" text-anchor="end" font-weight="normal" fill="#1a1a1a" textLength="12.75" lengthAdjust="spacingAndGlyphs" stroke="#1a1a1a" stroke-width="0.15" >400</text>
<line x1="440.30" y1="170.45" x2="442.90" y2="170.45" stroke="#202020" stroke-width="1.2" />
<text x="436.70" y="173.55" font-size="8.8" text-anchor="end" font-weight="normal" fill="#1a1a1a" textLength="12.75" lengthAdjust="spacingAndGlyphs" stroke="#1a1a1a" stroke-width="0.15" >600</text>
<line x1="440.30" y1="153.10" x2="442.90" y2="153.10" stroke="#202020" stroke-width="1.2" />
<text x="436.70" y="156.20" font-size="8.8" text-anchor="end" font-weight="normal" fill="#1a1a1a" textLength="12.75" lengthAdjust="spacingAndGlyphs" stroke="#1a1a1a" stroke-width="0.15" >800</text>
<line x1="442.90" y1="222.50" x2="511.80" y2="222.50" stroke="#181818" stroke-width="1.4" />
<text transform="translate(418.30,0) rotate(-90)" x="-223.90" y="0" font-size="9.8" fill="#1a1a1a" stroke="#1a1a1a" stroke-width="0.15" textLength="75.90" lengthAdjust="spacingAndGlyphs">No. of CFU-Cs migrated</text>
<rect x="446.65" y="181.05" width="10.10" height="40.95" fill="#c4c1c8" stroke="#b6b3ba" stroke-width="0.7"/>
<rect x="464.05" y="212.85" width="10.10" height="9.15" fill="#a5002a" stroke="#95001f" stroke-width="0.7"/>
<rect x="481.35" y="181.05" width="10.10" height="40.95" fill="#2f4c80" stroke="#203a6c" stroke-width="0.7"/>
<rect x="498.55" y="181.45" width="10.10" height="40.55" fill="#2f4c80" stroke="#203a6c" stroke-width="0.7"/>
<line x1="451.70" y1="222.50" x2="451.70" y2="225.50" stroke="#202020" stroke-width="1.1" />
<line x1="469.10" y1="222.50" x2="469.10" y2="225.50" stroke="#202020" stroke-width="1.1" />
<line x1="486.40" y1="222.50" x2="486.40" y2="225.50" stroke="#202020" stroke-width="1.1" />
<line x1="503.60" y1="222.50" x2="503.60" y2="225.50" stroke="#202020" stroke-width="1.1" />
<line x1="451.50" y1="174.60" x2="451.50" y2="180.70" stroke="#151515" stroke-width="1.0" />
<line x1="448.80" y1="174.60" x2="454.20" y2="174.60" stroke="#151515" stroke-width="1.0" />
<circle cx="451.70" cy="171.90" r="2.0" fill="#f39a06" stroke="#21170a" stroke-width="0.8"/>
<circle cx="448.10" cy="181.20" r="2.0" fill="#f39a06" stroke="#21170a" stroke-width="0.8"/>
<circle cx="455.50" cy="179.30" r="2.0" fill="#f39a06" stroke="#21170a" stroke-width="0.8"/>
<line x1="469.50" y1="211.00" x2="469.50" y2="212.50" stroke="#151515" stroke-width="1.0" />
<line x1="466.80" y1="211.00" x2="472.20" y2="211.00" stroke="#151515" stroke-width="1.0" />
<circle cx="465.40" cy="209.10" r="2.0" fill="#f39a06" stroke="#21170a" stroke-width="0.8"/>
<circle cx="465.40" cy="213.50" r="2.0" fill="#f39a06" stroke="#21170a" stroke-width="0.8"/>
<circle cx="472.80" cy="212.00" r="2.0" fill="#f39a06" stroke="#21170a" stroke-width="0.8"/>
<line x1="486.50" y1="178.30" x2="486.50" y2="180.70" stroke="#151515" stroke-width="1.0" />
<line x1="483.80" y1="178.30" x2="489.20" y2="178.30" stroke="#151515" stroke-width="1.0" />
<circle cx="482.50" cy="177.10" r="2.0" fill="#f39a06" stroke="#21170a" stroke-width="0.8"/>
<circle cx="482.70" cy="183.50" r="2.0" fill="#f39a06" stroke="#21170a" stroke-width="0.8"/>
<circle cx="490.10" cy="180.70" r="2.0" fill="#f39a06" stroke="#21170a" stroke-width="0.8"/>
<line x1="503.50" y1="177.80" x2="503.50" y2="184.30" stroke="#151515" stroke-width="1.0" />
<line x1="500.80" y1="177.80" x2="506.20" y2="177.80" stroke="#151515" stroke-width="1.0" />
<line x1="500.80" y1="184.30" x2="506.20" y2="184.30" stroke="#151515" stroke-width="1.0" />
<circle cx="499.80" cy="177.10" r="2.0" fill="#f39a06" stroke="#21170a" stroke-width="0.8"/>
<circle cx="507.30" cy="176.30" r="2.0" fill="#f39a06" stroke="#21170a" stroke-width="0.8"/>
<circle cx="503.60" cy="187.80" r="2.0" fill="#f39a06" stroke="#21170a" stroke-width="0.8"/>
<path d="M451.8,164.3 V143.5 H465.3 V199.7" fill="none" stroke="#303030" stroke-width="1.35"/>
<circle cx="455.45" cy="139.60" r="1.05" fill="#222"/>
<circle cx="458.80" cy="139.60" r="1.05" fill="#222"/>
<circle cx="462.15" cy="139.60" r="1.05" fill="#222"/>
<path d="M468.6,199.7 V143.5 H503.4 V163.8" fill="none" stroke="#303030" stroke-width="1.35"/>
<circle cx="484.62" cy="139.60" r="1.05" fill="#222"/>
<circle cx="487.98" cy="139.60" r="1.05" fill="#222"/>
<path d="M471.9,199.7 V151.5 H485.5 V164.8" fill="none" stroke="#303030" stroke-width="1.35"/>
<circle cx="475.55" cy="147.80" r="1.05" fill="#222"/>
<circle cx="478.90" cy="147.80" r="1.05" fill="#222"/>
<circle cx="482.25" cy="147.80" r="1.05" fill="#222"/>
<rect x="391.70" y="321.70" width="121.40" height="14.80" fill="#eec498" stroke="none" stroke-width="0"/>
<line x1="355.00" y1="228.20" x2="513.10" y2="228.20" stroke="#303030" stroke-width="1.35" />
<line x1="391.70" y1="243.40" x2="513.10" y2="243.40" stroke="#303030" stroke-width="1.35" />
<line x1="391.70" y1="258.70" x2="513.10" y2="258.70" stroke="#303030" stroke-width="1.35" />
<line x1="391.70" y1="274.00" x2="513.10" y2="274.00" stroke="#303030" stroke-width="1.35" />
<line x1="391.70" y1="288.90" x2="513.10" y2="288.90" stroke="#303030" stroke-width="1.35" />
<line x1="355.00" y1="304.40" x2="513.10" y2="304.40" stroke="#303030" stroke-width="1.35" />
<line x1="355.00" y1="228.20" x2="355.00" y2="304.40" stroke="#303030" stroke-width="1.35" />
<line x1="391.70" y1="228.20" x2="391.70" y2="304.40" stroke="#303030" stroke-width="1.35" />
<line x1="442.90" y1="228.20" x2="442.90" y2="304.40" stroke="#303030" stroke-width="1.35" />
<line x1="460.45" y1="228.20" x2="460.45" y2="304.40" stroke="#303030" stroke-width="1.35" />
<line x1="478.00" y1="228.20" x2="478.00" y2="304.40" stroke="#303030" stroke-width="1.35" />
<line x1="495.55" y1="228.20" x2="495.55" y2="304.40" stroke="#303030" stroke-width="1.35" />
<line x1="513.10" y1="228.20" x2="513.10" y2="304.40" stroke="#303030" stroke-width="1.35" />
<line x1="355.00" y1="306.60" x2="513.10" y2="306.60" stroke="#303030" stroke-width="1.35" />
<line x1="391.70" y1="321.70" x2="513.10" y2="321.70" stroke="#303030" stroke-width="1.35" />
<line x1="355.00" y1="336.50" x2="513.10" y2="336.50" stroke="#303030" stroke-width="1.35" />
<line x1="355.00" y1="306.60" x2="355.00" y2="336.50" stroke="#303030" stroke-width="1.35" />
<line x1="391.70" y1="306.60" x2="391.70" y2="336.50" stroke="#303030" stroke-width="1.35" />
<line x1="442.90" y1="306.60" x2="442.90" y2="336.50" stroke="#303030" stroke-width="1.35" />
<line x1="460.45" y1="306.60" x2="460.45" y2="336.50" stroke="#303030" stroke-width="1.35" />
<line x1="478.00" y1="306.60" x2="478.00" y2="336.50" stroke="#303030" stroke-width="1.35" />
<line x1="495.55" y1="306.60" x2="495.55" y2="336.50" stroke="#303030" stroke-width="1.35" />
<line x1="513.10" y1="306.60" x2="513.10" y2="336.50" stroke="#303030" stroke-width="1.35" />
<text x="417.30" y="238.40" font-size="8.2" text-anchor="middle" font-weight="normal" fill="#1a1a1a" textLength="22.0" lengthAdjust="spacingAndGlyphs" stroke="#1a1a1a" stroke-width="0.04" >FGF23</text>
<rect x="450.72" y="235.30" width="1.9" height="1.0" fill="#6a6a6a"/>
<circle cx="469.23" cy="235.80" r="3.75" fill="none" stroke="#0a0a0a" stroke-width="1.1"/>
<circle cx="486.77" cy="235.80" r="3.75" fill="none" stroke="#0a0a0a" stroke-width="1.1"/>
<circle cx="504.33" cy="235.80" r="3.75" fill="none" stroke="#0a0a0a" stroke-width="1.1"/>
<text x="417.30" y="253.65" font-size="8.2" text-anchor="middle" font-weight="normal" fill="#1a1a1a" textLength="28.6" lengthAdjust="spacingAndGlyphs" stroke="#1a1a1a" stroke-width="0.04" >α-Klotho</text>
<rect x="450.72" y="250.55" width="1.9" height="1.0" fill="#6a6a6a"/>
<circle cx="469.23" cy="251.05" r="3.75" fill="none" stroke="#0a0a0a" stroke-width="1.1"/>
<circle cx="486.77" cy="251.05" r="3.75" fill="none" stroke="#0a0a0a" stroke-width="1.1"/>
<circle cx="504.33" cy="251.05" r="3.75" fill="none" stroke="#0a0a0a" stroke-width="1.1"/>
<text x="417.30" y="268.95" font-size="7.8" text-anchor="middle" font-weight="normal" fill="#1a1a1a" textLength="25.1" lengthAdjust="spacingAndGlyphs" stroke="#1a1a1a" stroke-width="0.04" >heparin</text>
<rect x="450.72" y="265.85" width="1.9" height="1.0" fill="#6a6a6a"/>
<circle cx="469.23" cy="266.35" r="3.75" fill="none" stroke="#0a0a0a" stroke-width="1.1"/>
<circle cx="486.77" cy="266.35" r="3.75" fill="none" stroke="#0a0a0a" stroke-width="1.1"/>
<circle cx="504.33" cy="266.35" r="3.75" fill="none" stroke="#0a0a0a" stroke-width="1.1"/>
<text x="417.30" y="284.05" font-size="8.2" text-anchor="middle" font-weight="normal" fill="#1a1a1a" textLength="28.5" lengthAdjust="spacingAndGlyphs" stroke="#1a1a1a" stroke-width="0.04" >BGJ-398</text>
<rect x="450.72" y="280.95" width="1.9" height="1.0" fill="#6a6a6a"/>
<rect x="468.28" y="280.95" width="1.9" height="1.0" fill="#6a6a6a"/>
<circle cx="486.77" cy="281.45" r="3.75" fill="none" stroke="#0a0a0a" stroke-width="1.1"/>
<rect x="503.38" y="280.95" width="1.9" height="1.0" fill="#6a6a6a"/>
<text x="417.30" y="299.25" font-size="8.2" text-anchor="middle" font-weight="normal" fill="#1a1a1a" textLength="47.0" lengthAdjust="spacingAndGlyphs" stroke="#1a1a1a" stroke-width="0.04" >JNJ-42756493</text>
<rect x="450.72" y="296.15" width="1.9" height="1.0" fill="#6a6a6a"/>
<rect x="468.28" y="296.15" width="1.9" height="1.0" fill="#6a6a6a"/>
<rect x="485.82" y="296.15" width="1.9" height="1.0" fill="#6a6a6a"/>
<circle cx="504.33" cy="296.65" r="3.75" fill="none" stroke="#0a0a0a" stroke-width="1.1"/>
<text x="417.30" y="316.75" font-size="7.8" text-anchor="middle" font-weight="normal" fill="#1a1a1a" textLength="25.1" lengthAdjust="spacingAndGlyphs" stroke="#1a1a1a" stroke-width="0.04" >heparin</text>
<circle cx="451.67" cy="314.15" r="3.75" fill="none" stroke="#0a0a0a" stroke-width="1.1"/>
<circle cx="469.23" cy="314.15" r="3.75" fill="none" stroke="#0a0a0a" stroke-width="1.1"/>
<circle cx="486.77" cy="314.15" r="3.75" fill="none" stroke="#0a0a0a" stroke-width="1.1"/>
<circle cx="504.33" cy="314.15" r="3.75" fill="none" stroke="#0a0a0a" stroke-width="1.1"/>
<text x="417.30" y="331.70" font-size="8.2" text-anchor="middle" font-weight="normal" fill="#1a1a1a" textLength="26.9" lengthAdjust="spacingAndGlyphs" stroke="#1a1a1a" stroke-width="0.04" >CXCL12</text>
<circle cx="451.67" cy="329.10" r="3.75" fill="none" stroke="#0a0a0a" stroke-width="1.1"/>
<circle cx="469.23" cy="329.10" r="3.75" fill="none" stroke="#0a0a0a" stroke-width="1.1"/>
<circle cx="486.77" cy="329.10" r="3.75" fill="none" stroke="#0a0a0a" stroke-width="1.1"/>
<circle cx="504.33" cy="329.10" r="3.75" fill="none" stroke="#0a0a0a" stroke-width="1.1"/>
<text x="373.30" y="265.50" font-size="7.9" text-anchor="middle" font-weight="normal" fill="#1a1a1a" textLength="19.2" lengthAdjust="spacingAndGlyphs" stroke="#1a1a1a" stroke-width="0.04" >upper</text>
<text x="373.30" y="274.30" font-size="7.9" text-anchor="middle" font-weight="normal" fill="#1a1a1a" textLength="28.5" lengthAdjust="spacingAndGlyphs" stroke="#1a1a1a" stroke-width="0.04" >chamber</text>
<text x="373.10" y="319.80" font-size="7.9" text-anchor="middle" font-weight="normal" fill="#1a1a1a" textLength="17.5" lengthAdjust="spacingAndGlyphs" stroke="#1a1a1a" stroke-width="0.04" >lower</text>
<text x="373.10" y="328.80" font-size="7.9" text-anchor="middle" font-weight="normal" fill="#1a1a1a" textLength="28.3" lengthAdjust="spacingAndGlyphs" stroke="#1a1a1a" stroke-width="0.04" >chamber</text>
</svg></body></html>
